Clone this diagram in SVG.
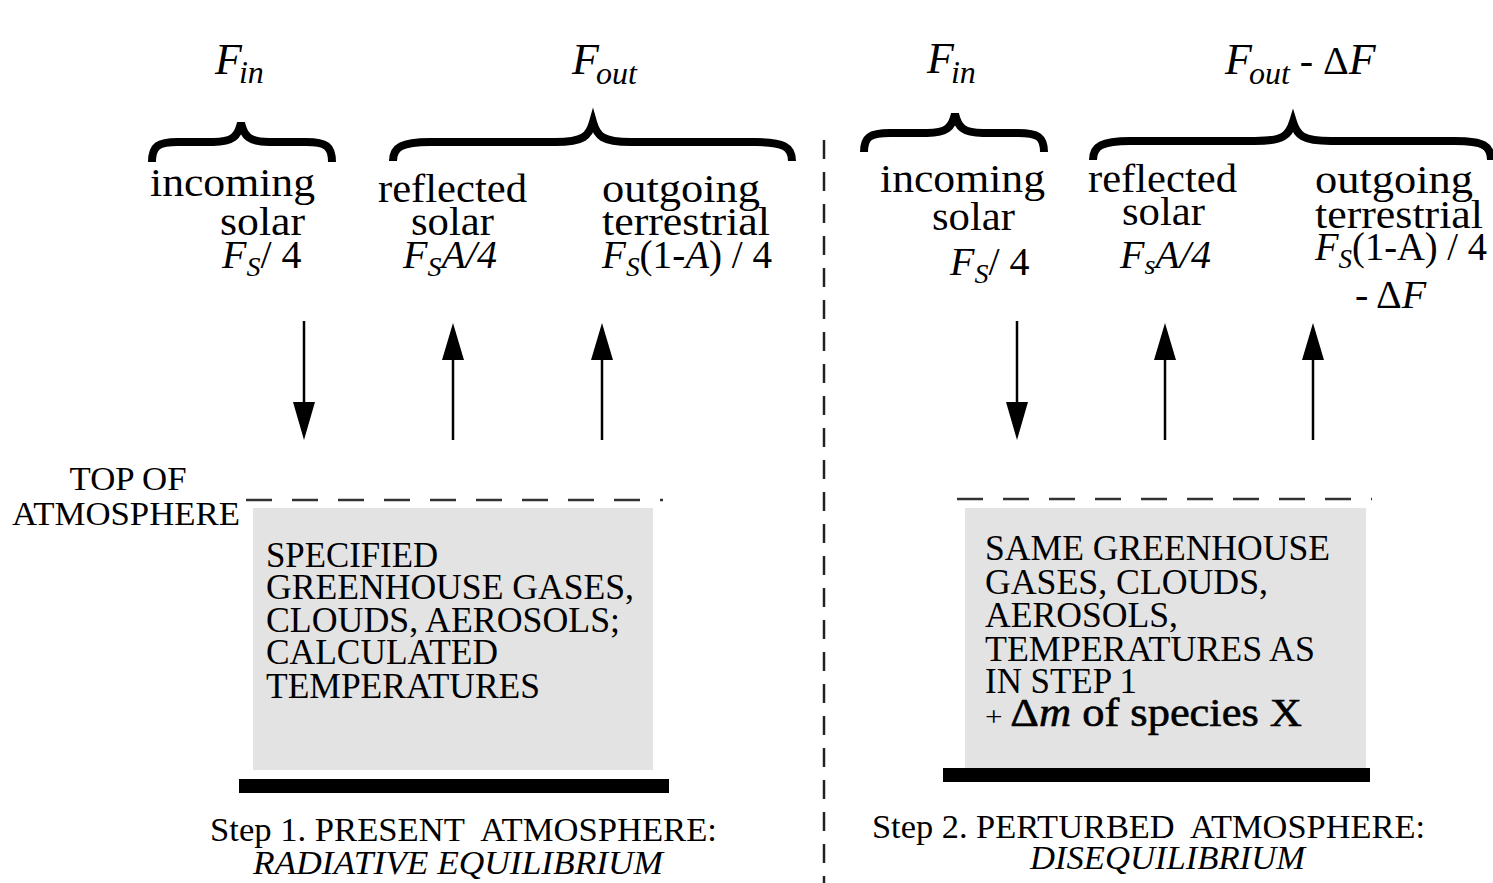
<svg xmlns="http://www.w3.org/2000/svg" width="1493" height="883" viewBox="0 0 1493 883">
<style>
text{font-family:"Liberation Serif","Times New Roman",serif;fill:#000}
.hd{font-size:44px;font-style:italic}
.sub{font-size:32px;font-style:italic}
.lb{font-size:41px}
.fx{font-size:40px}
.it{font-style:italic}
.bx{font-size:35px}
.st{font-size:34px}
.brace{fill:none;stroke:#000;stroke-width:8;stroke-linejoin:miter;stroke-linecap:butt}
.arr{stroke:#000;stroke-width:2.5;fill:none}
.head{fill:#000}
.toa{stroke:#333;stroke-width:2.5;stroke-dasharray:26 20;fill:none}
.sep{stroke:#222;stroke-width:2.5;stroke-dasharray:19 13;fill:none}
.box{fill:#e3e3e3}
.ground{fill:#000}
</style>

<g id="separator"><line class="sep" x1="824" y1="140" x2="824" y2="883"/></g>

<g id="step1">
  <g id="s1-headers">
    <text class="hd" x="215" y="74">F<tspan class="sub" dx="-3" dy="9">in</tspan></text>
    <text class="hd" x="572" y="74">F<tspan class="sub" dx="-3" dy="10">out</tspan></text>
  </g>
  <g id="s1-braces">
    <path class="brace" d="M152,162 C152,146 158,142 178,142 L213,142 C233,142 238,136 241,123 C244,136 249,142 269,142 L306,142 C326,142 332,146 332,162"/>
    <path class="brace" d="M393,161 C393,147 402,142 430,142 L555,142 C584,142 589,136 593,122 C597,136 602,142 631,142 L755,142 C784,142 792,147 792,161"/>
  </g>
  <g id="s1-incoming">
    <text class="lb" x="150" y="196" textLength="165" lengthAdjust="spacingAndGlyphs">incoming</text>
    <text class="lb" x="220" y="235" textLength="85" lengthAdjust="spacingAndGlyphs">solar</text>
    <text class="fx" x="222" y="268"><tspan class="it">F</tspan><tspan font-size="28" class="it" dy="8">S</tspan><tspan dy="-8">/ 4</tspan></text>
  </g>
  <g id="s1-reflected">
    <text class="lb" x="378" y="202" textLength="149" lengthAdjust="spacingAndGlyphs">reflected</text>
    <text class="lb" x="411" y="235" textLength="83" lengthAdjust="spacingAndGlyphs">solar</text>
    <text class="fx it" x="403" y="268">F<tspan font-size="28" dy="8">S</tspan><tspan dy="-8">A/4</tspan></text>
  </g>
  <g id="s1-outgoing">
    <text class="lb" x="602" y="202" textLength="158" lengthAdjust="spacingAndGlyphs">outgoing</text>
    <text class="lb" x="602" y="235" textLength="168" lengthAdjust="spacingAndGlyphs">terrestrial</text>
    <text class="fx" x="602" y="268" textLength="170" lengthAdjust="spacingAndGlyphs"><tspan class="it">F</tspan><tspan font-size="28" class="it" dy="8">S</tspan><tspan dy="-8">(1-</tspan><tspan class="it">A</tspan><tspan>) / 4</tspan></text>
  </g>
  <g id="s1-toa-label">
    <text class="st" x="128" y="490" text-anchor="middle" textLength="117" lengthAdjust="spacingAndGlyphs">TOP OF</text>
    <text class="st" x="12" y="525" textLength="228" lengthAdjust="spacingAndGlyphs">ATMOSPHERE</text>
  </g>
  <line class="toa" x1="246" y1="500" x2="663" y2="500"/>
  <g id="s1-atmosphere">
    <rect class="box" x="253" y="508" width="400" height="262"/>
    <text class="bx" x="266" y="567" textLength="172" lengthAdjust="spacingAndGlyphs">SPECIFIED</text>
    <text class="bx" x="266" y="599" textLength="368" lengthAdjust="spacingAndGlyphs">GREENHOUSE GASES,</text>
    <text class="bx" x="266" y="632" textLength="354" lengthAdjust="spacingAndGlyphs">CLOUDS, AEROSOLS;</text>
    <text class="bx" x="266" y="664" textLength="232" lengthAdjust="spacingAndGlyphs">CALCULATED</text>
    <text class="bx" x="266" y="698" textLength="274" lengthAdjust="spacingAndGlyphs">TEMPERATURES</text>
  </g>
  <rect class="ground" x="239" y="779" width="430" height="14"/>
  <g id="s1-caption">
    <text class="st" x="210" y="841" textLength="507" lengthAdjust="spacingAndGlyphs">Step 1. PRESENT&#160; ATMOSPHERE:</text>
    <text class="st it" x="253" y="874" textLength="410" lengthAdjust="spacingAndGlyphs">RADIATIVE EQUILIBRIUM</text>
  </g>
</g>

<g id="step2">
  <g id="s2-headers">
    <text class="hd" x="927" y="73">F<tspan class="sub" dx="-3" dy="10">in</tspan></text>
    <text class="hd" x="1225" y="74">F<tspan class="sub" dx="-3" dy="10">out</tspan><tspan font-style="normal" font-size="40" dy="-10"> - Δ</tspan>F</text>
  </g>
  <g id="s2-braces">
    <path class="brace" d="M864,152 C864,137 870,133 890,133 L927,133 C947,133 952,127 955,114 C958,127 963,133 983,133 L1018,133 C1038,133 1044,137 1044,152"/>
    <path class="brace" d="M1093,160 C1093,146 1102,141 1130,141 L1255,141 C1284,141 1289,135 1293,122 C1297,135 1302,141 1331,141 L1455,141 C1484,141 1491,146 1491,160"/>
  </g>
  <g id="s2-incoming">
    <text class="lb" x="880" y="192" textLength="165" lengthAdjust="spacingAndGlyphs">incoming</text>
    <text class="lb" x="932" y="230" textLength="83" lengthAdjust="spacingAndGlyphs">solar</text>
    <text class="fx" x="950" y="275"><tspan class="it">F</tspan><tspan font-size="28" class="it" dy="8">S</tspan><tspan dy="-8">/ 4</tspan></text>
  </g>
  <g id="s2-reflected">
    <text class="lb" x="1088" y="192" textLength="149" lengthAdjust="spacingAndGlyphs">reflected</text>
    <text class="lb" x="1122" y="225" textLength="83" lengthAdjust="spacingAndGlyphs">solar</text>
    <text class="fx it" x="1120" y="268">F<tspan font-size="28" dy="6">s</tspan><tspan dy="-6">A/4</tspan></text>
  </g>
  <g id="s2-outgoing">
    <text class="lb" x="1315" y="193" textLength="158" lengthAdjust="spacingAndGlyphs">outgoing</text>
    <text class="lb" x="1315" y="228" textLength="168" lengthAdjust="spacingAndGlyphs">terrestrial</text>
    <text class="fx" x="1315" y="260" textLength="172" lengthAdjust="spacingAndGlyphs"><tspan class="it">F</tspan><tspan font-size="28" class="it" dy="8">S</tspan><tspan dy="-8">(1-A) / 4</tspan></text>
    <text class="fx" x="1355" y="308">- Δ<tspan class="it">F</tspan></text>
  </g>
  <line class="toa" x1="957" y1="499" x2="1372" y2="499"/>
  <g id="s2-atmosphere">
    <rect class="box" x="965" y="508" width="401" height="260"/>
    <text class="bx" x="985" y="560" textLength="345" lengthAdjust="spacingAndGlyphs">SAME GREENHOUSE</text>
    <text class="bx" x="985" y="594" textLength="283" lengthAdjust="spacingAndGlyphs">GASES, CLOUDS,</text>
    <text class="bx" x="985" y="627" textLength="193" lengthAdjust="spacingAndGlyphs">AEROSOLS,</text>
    <text class="bx" x="985" y="661" textLength="330" lengthAdjust="spacingAndGlyphs">TEMPERATURES AS</text>
    <text class="bx" x="985" y="693" textLength="152" lengthAdjust="spacingAndGlyphs">IN STEP 1</text>
    <text x="985" y="726" font-size="40" stroke="#000" stroke-width="0.6" textLength="317" lengthAdjust="spacingAndGlyphs"><tspan font-size="28" stroke-width="0">+ </tspan><tspan>Δ</tspan><tspan class="it">m</tspan><tspan> of species X</tspan></text>
  </g>
  <rect class="ground" x="943" y="768" width="427" height="14"/>
  <g id="s2-caption">
    <text class="st" x="872" y="838" textLength="553" lengthAdjust="spacingAndGlyphs">Step 2. PERTURBED&#160; ATMOSPHERE:</text>
    <text class="st it" x="1030" y="869" textLength="275" lengthAdjust="spacingAndGlyphs">DISEQUILIBRIUM</text>
  </g>
</g>

<g id="connectors">
  <line class="arr" x1="304" y1="321" x2="304" y2="405"/>
  <polygon class="head" points="293,402 315,402 304,440"/>
  <line class="arr" x1="453" y1="358" x2="453" y2="440"/>
  <polygon class="head" points="442,360 464,360 453,323"/>
  <line class="arr" x1="602" y1="358" x2="602" y2="440"/>
  <polygon class="head" points="591,360 613,360 602,323"/>
  <line class="arr" x1="1017" y1="321" x2="1017" y2="405"/>
  <polygon class="head" points="1006,402 1028,402 1017,440"/>
  <line class="arr" x1="1165" y1="358" x2="1165" y2="440"/>
  <polygon class="head" points="1154,360 1176,360 1165,323"/>
  <line class="arr" x1="1313" y1="358" x2="1313" y2="440"/>
  <polygon class="head" points="1302,360 1324,360 1313,323"/>
</g>
</svg>
